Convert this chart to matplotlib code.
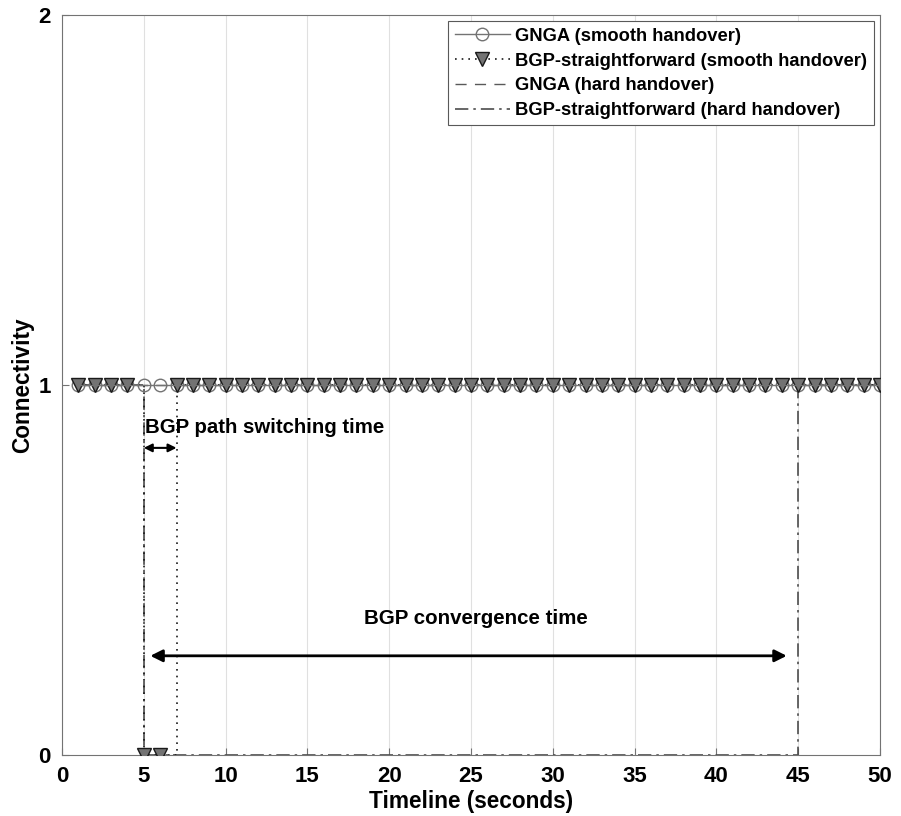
import matplotlib
matplotlib.use("Agg")
import matplotlib.pyplot as plt
import numpy as np
from matplotlib.lines import Line2D

plt.rcParams['font.family'] = ['Liberation Sans', 'DejaVu Sans']
plt.rcParams['font.weight'] = 'bold'

time = np.arange(1, 51)
gnga_smooth = [1] * 50
bgp_smooth = [1] * 4 + [0, 0] + [1] * 44
gnga_hard = [1] * 50
bgp_hard = [1] * 4 + [0] * 40 + [1] * 6

DASH = (0, (8, 6))
DASHDOT = (0, (8, 3, 1.5, 3))
DOT = (0, (1, 3))

fig = plt.figure(figsize=(9.01, 8.16), dpi=100)
ax = fig.add_axes([0.0688, 0.0748, 0.9079, 0.9068])

ax.plot(time, gnga_hard, linestyle=DASH, color='0.35', lw=1.0,
        drawstyle='steps-post', zorder=2)
ax.plot(time, bgp_hard, linestyle=DASHDOT, color='0.3', lw=1.2,
        drawstyle='steps-post', zorder=2)
ax.plot(time, bgp_smooth, linestyle=DOT, color='0.1', lw=1.2,
        drawstyle='steps-post', zorder=3)
ax.plot(time, gnga_smooth, linestyle='none', marker='o', markersize=9,
        markerfacecolor='none', markeredgecolor='0.45', markeredgewidth=1.0, zorder=3)
ax.plot(time, bgp_smooth, linestyle='none', marker='v', markersize=10,
        markerfacecolor='0.45', markeredgecolor='0.1', markeredgewidth=1.0, zorder=4)
ax.plot(time, gnga_smooth, '-', color='0.45', lw=1.0, zorder=5)

h1 = Line2D([], [], linestyle='-', color='0.45', lw=1.0, marker='o', markersize=9,
            markerfacecolor='none', markeredgecolor='0.45')
h2 = Line2D([], [], linestyle=DOT, color='0.1', lw=1.2, marker='v', markersize=10,
            markerfacecolor='0.45', markeredgecolor='0.1')
h3 = Line2D([], [], linestyle=DASH, color='0.35', lw=1.0)
h4 = Line2D([], [], linestyle=DASHDOT, color='0.3', lw=1.2)

ax.set_xlim(0, 50)
ax.set_ylim(0, 2)
ax.set_xticks(np.arange(0, 51, 5))
ax.set_yticks([0, 1, 2])
ax.grid(axis='x', color='0.88', lw=0.8)
ax.set_axisbelow(True)
for s in ax.spines.values():
    s.set_color('0.45')
ax.tick_params(labelsize=16, colors='0.45', labelcolor='black', length=5,
               direction='in', pad=8)
for lab in ax.get_xticklabels() + ax.get_yticklabels():
    lab.set_fontweight('bold')
ax.set_xlabel('Timeline (seconds)', fontsize=16.3, fontweight='bold', labelpad=2)
ax.set_ylabel('Connectivity', fontsize=16.3, fontweight='bold', labelpad=3)

ax.text(5.1, 0.885, 'BGP path switching time', fontsize=14.7, fontweight='bold', va='center')
ax.annotate('', xy=(5.0, 0.83), xytext=(7.0, 0.83),
            arrowprops=dict(arrowstyle='<|-|>', color='black', lw=1.5, mutation_scale=12,
                            shrinkA=0, shrinkB=0))
ax.text(25.3, 0.37, 'BGP convergence time', fontsize=14.8, fontweight='bold',
        ha='center', va='center')
ax.annotate('', xy=(5.4, 0.268), xytext=(44.3, 0.268),
            arrowprops=dict(arrowstyle='<|-|>', color='black', lw=2.0, mutation_scale=18,
                            shrinkA=0, shrinkB=0))

leg = ax.legend([h1, h2, h3, h4],
                ['GNGA (smooth handover)', 'BGP-straightforward (smooth handover)',
                 'GNGA (hard handover)', 'BGP-straightforward (hard handover)'],
                loc='upper right', fontsize=13.2, frameon=True, fancybox=False,
                edgecolor='0.35', framealpha=1, handlelength=3.0, handletextpad=0.3,
                borderpad=0.35, labelspacing=0.42, borderaxespad=0.35)
leg.get_frame().set_linewidth(0.8)
for t in leg.get_texts():
    t.set_fontweight('bold')

fig.savefig('out.png', dpi=100)
